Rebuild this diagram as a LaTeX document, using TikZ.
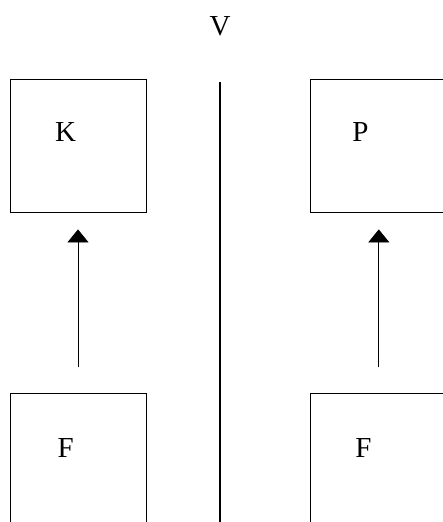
\documentclass[tikz,border=0pt]{standalone}
\usepackage{fontspec}
\setmainfont{Liberation Serif}
\usetikzlibrary{positioning,arrows.meta}

\begin{document}
\begin{tikzpicture}[x=1pt, y=1pt, node distance=181pt and 164pt,
                    main node/.style={draw, line width=0.8pt, minimum width=136pt, minimum height=133pt, inner sep=0pt},
                    name node/.style={anchor=base, font=\fontsize{29}{34}\selectfont},
                    up arrow/.style={line width=0.8pt, -{Triangle[width=21pt,length=13pt]}, shorten <=26pt, shorten >=17pt}]

  \useasboundingbox (0,0) rectangle (443,-522);

  \node[main node] (K) at (78,-145.5) {};
  \node[main node] (P) [right =of K] {};
  \node[main node] (FK) [below =of K] {};
  \node[main node] (FP) [below =of P] {};

  \node[name node] (k) at ([shift={(56,-63)}]K.north west) {K};
  \node[name node] (p) at ([shift={(50,-63)}]P.north west) {P};
  \node[name node] (fk) at ([shift={(56,-64)}]FK.north west) {F};
  \node[name node] (fp) at ([shift={(53,-64)}]FP.north west) {F};

  \node[name node] (V) at (220,-35) {V};
  \coordinate (top) at (220,-82);
  \coordinate (bottom) at (220,-522);
  \draw[line width=2pt] (top) -- (bottom);

  \draw[up arrow] (FK) -- (K);
  \draw[up arrow] (FP) -- (P);
\end{tikzpicture}
\end{document}
